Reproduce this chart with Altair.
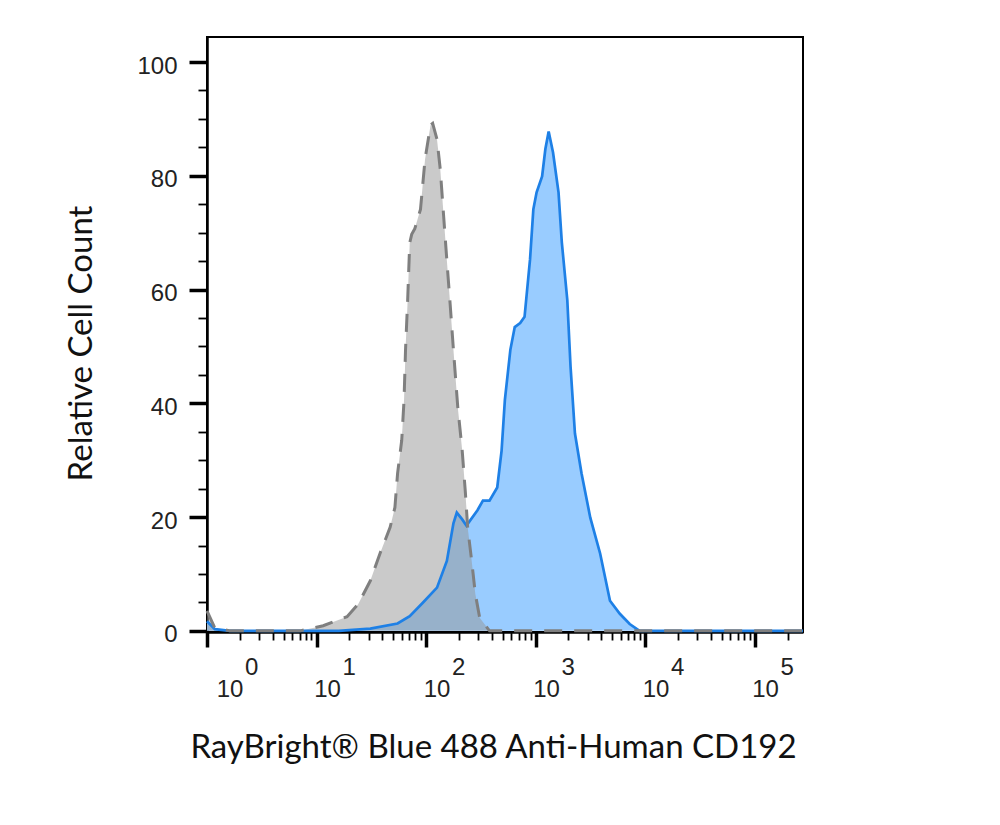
import altair as alt
import pandas as pd

# Isotype control (grey, dashed)
grey_x = [1.0, 1.18, 1.62, 7.1, 11.5, 19, 24, 31, 38, 47, 52, 55, 60, 63, 65, 68, 71, 74, 79, 89,
          98, 110, 115, 126, 135, 145, 155, 166, 178, 195, 214, 229, 240, 263, 282, 309, 380, 277000]
grey_y = [3.5, 0.5, 0, 0, 0.9, 2.5, 4.7, 8.8, 13.6, 18.2, 21.7, 27.7, 33.5, 40.6, 49.4, 58.2, 68.2, 69.7, 70.7, 74.1,
          82.9, 88.9, 89.2, 86.4, 81.1, 72.8, 65.1, 57.5, 49.4, 39.3, 31.7, 24.2, 18.2, 11.8, 6.5, 2.3, 0, 0]

# Stained sample (blue)
blue_x = [1.0, 1.18, 1.62, 16, 31, 55, 71, 93, 126, 155, 178, 191, 214, 234, 295, 331, 380, 447, 490, 525,
          589, 646, 724, 794, 891, 955, 1023, 1148, 1230, 1318, 1445, 1622, 1738, 1950, 2089, 2291, 2630,
          3162, 3890, 4786, 5888, 7244, 8913, 277000]
blue_y = [1.7, 0.3, 0, 0, 0.4, 1.3, 2.6, 4.9, 7.6, 12.3, 18.9, 20.8, 19.6, 18.5, 21.2, 22.9, 22.9, 25.2, 31.7, 40.6,
          49.4, 53.4, 54.1, 55.2, 65.3, 74.1, 77.1, 79.9, 84.7, 87.8, 84.1, 77.1, 68.3, 58.2, 46.4, 34.7, 27.7,
          19.9, 13.6, 5.3, 3.0, 1.2, 0, 0]

exponents = [0, 1, 2, 3, 4, 5]
y_ticks = list(range(0, 101, 5))
x_ticks = [m * 10 ** e for e in range(0, 6) for m in range(1, 10) if m * 10 ** e <= 277000]

W, H = 596, 595

grey = pd.DataFrame({"intensity": grey_x, "count": grey_y})
blue = pd.DataFrame({"intensity": blue_x, "count": blue_y})
labels = pd.DataFrame({"intensity": [10 ** e for e in exponents],
                       "base": ["10"] * len(exponents),
                       "exp": [str(e) for e in exponents],
                       "e": exponents})

major_x = "indexof([1,10,100,1000,10000,100000], datum.value) >= 0"
major_y = "datum.value % 20 == 0"

x_enc = alt.X(
    "intensity:Q",
    scale=alt.Scale(type="log", domain=[1, 277000], nice=False),
    axis=alt.Axis(
        values=x_ticks, labels=False, grid=False,
        tickSize={"condition": {"test": major_x, "value": 15}, "value": 8},
        tickWidth={"condition": {"test": major_x, "value": 3.5}, "value": 1.8},
        tickColor="black", domainColor="black", domainWidth=2.5,
        title="RayBright® Blue 488 Anti-Human CD192",
        titleFont="Lato", titleFontSize=33, titleFontWeight="normal", titleColor="#111111",
        titleX=286, titleY=125, titleAlign="center", titleBaseline="alphabetic", titleAnchor="start",
    ),
)
y_enc = alt.Y(
    "count:Q",
    scale=alt.Scale(domain=[-0.2, 104.4], nice=False, zero=False),
    axis=alt.Axis(
        values=y_ticks, grid=False,
        labelExpr="datum.value % 20 == 0 ? datum.label : ''",
        labelFont="Liberation Sans", labelFontSize=24, labelColor="#222222",
        labelPadding=12, labelOffset=4,
        tickSize={"condition": {"test": major_y, "value": 18}, "value": 9},
        tickWidth={"condition": {"test": major_y, "value": 3.5}, "value": 1.8},
        tickColor="black", domainColor="black", domainWidth=2.5,
        title="Relative Cell Count",
        titleFont="Lato", titleFontSize=33, titleFontWeight="normal", titleColor="#111111",
        titleAngle=270, titleX=-116, titleY=306, titleAlign="center", titleBaseline="alphabetic",
        titleAnchor="start",
    ),
)

blue_area = alt.Chart(blue).mark_area(color="#99CCFF", line=False).encode(x=x_enc, y=y_enc)
grey_area = alt.Chart(grey).mark_area(color="#969696", fillOpacity=0.5, line=False).encode(x=x_enc, y=y_enc)
blue_line = alt.Chart(blue).mark_line(color="#1E80E6", strokeWidth=2.7).encode(x=x_enc, y=y_enc)
grey_line = alt.Chart(grey).mark_line(color="#7F7F7F", strokeWidth=3, strokeDash=[18, 12]).encode(x=x_enc, y=y_enc)

txt_style = dict(font="Liberation Sans", fontSize=24, color="#222222", baseline="alphabetic")
base_rest = alt.Chart(labels).transform_filter("datum.e > 0").mark_text(align="center", dx=11, **txt_style).encode(
    x=x_enc, y=alt.value(H + 65), text="base:N")
exp_rest = alt.Chart(labels).transform_filter("datum.e > 0").mark_text(align="left", dx=26, **txt_style).encode(
    x=x_enc, y=alt.value(H + 43), text="exp:N")
base_first = alt.Chart(labels).transform_filter("datum.e == 0").mark_text(align="center", dx=23, **txt_style).encode(
    x=x_enc, y=alt.value(H + 65), text="base:N")
exp_first = alt.Chart(labels).transform_filter("datum.e == 0").mark_text(align="left", dx=38, **txt_style).encode(
    x=x_enc, y=alt.value(H + 43), text="exp:N")

chart = alt.layer(
    blue_area, grey_area, blue_line, grey_line, base_rest, exp_rest, base_first, exp_first
).properties(
    width=W, height=H,
    autosize=alt.AutoSizeParams(type="none"),
    padding={"left": 199, "top": 29, "right": 170, "bottom": 170},
).configure(
    background="white",
    view=alt.ViewConfig(stroke="black", strokeWidth=2),
)

chart.save("out.html", embed_options={"renderer": "svg", "actions": False})
